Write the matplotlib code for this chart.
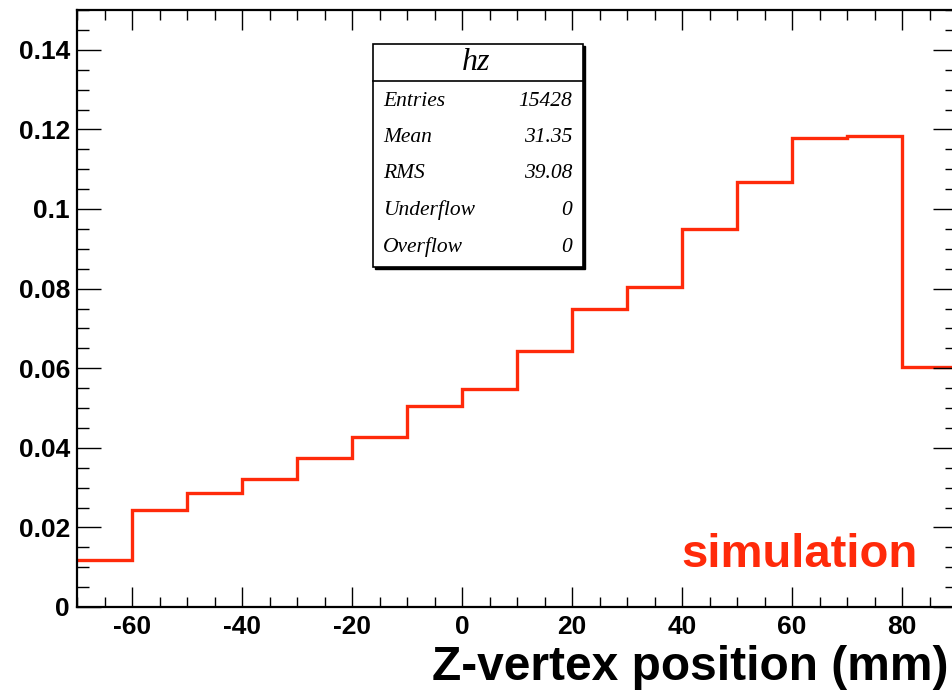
import matplotlib
matplotlib.use("Agg")
import matplotlib.pyplot as plt
from matplotlib.patches import Rectangle
from matplotlib.ticker import MultipleLocator, FuncFormatter

# histogram "hz": z-vertex, 10 mm bins
bin_edges = [-70, -60, -50, -40, -30, -20, -10, 0, 10, 20, 30, 40, 50, 60, 70, 80, 90]
counts = [0.0118, 0.0243, 0.0287, 0.0321, 0.0374, 0.0427, 0.0504, 0.0547,
          0.0642, 0.0750, 0.0803, 0.0949, 0.1068, 0.1179, 0.1183, 0.0602]

stat_names = ["Entries", "Mean", "RMS", "Underflow", "Overflow"]
stat_values = ["15428", "31.35", "39.08", "0", "0"]

red = "#ff2a0a"
W, H = 952, 690

plt.rcParams["font.family"] = ["Liberation Sans", "DejaVu Sans"]
fig = plt.figure(figsize=(W / 100, H / 100), dpi=100)
ax = fig.add_axes([77 / W, 1 - 607 / H, (957 - 77) / W, (607 - 10) / H])

ax.stairs(counts, bin_edges, color=red, linewidth=2.4, baseline=None)

ax.set_xlim(-70, 90)
ax.set_ylim(0, 0.15)
ax.xaxis.set_major_locator(MultipleLocator(20))
ax.xaxis.set_minor_locator(MultipleLocator(5))
ax.yaxis.set_major_locator(MultipleLocator(0.02))
ax.yaxis.set_minor_locator(MultipleLocator(0.005))
ax.yaxis.set_major_formatter(FuncFormatter(lambda v, p: f"{v:g}"))
ax.xaxis.set_major_formatter(FuncFormatter(lambda v, p: f"{v:g}"))

ax.tick_params(axis="both", which="both", direction="in", top=True, right=True, width=1.0)
ax.tick_params(axis="x", which="major", length=14.5, pad=6)
ax.tick_params(axis="x", which="minor", length=7.2)
ax.tick_params(axis="y", which="major", length=17.3, pad=5)
ax.tick_params(axis="y", which="minor", length=8.6)
for lab in ax.get_xticklabels() + ax.get_yticklabels():
    lab.set_fontsize(19)
    lab.set_fontweight("bold")
for s in ax.spines.values():
    s.set_linewidth(1.6)

# stats box
bx0, bx1, by0, by1 = 373, 583, 44, 267
fig.patches.append(Rectangle((bx0 / W + 1.5 / W, 1 - by1 / H - 1.5 / H), (bx1 - bx0) / W, (by1 - by0) / H,
                             transform=fig.transFigure, facecolor="black", edgecolor="black", zorder=5))
fig.patches.append(Rectangle((bx0 / W, 1 - by1 / H), (bx1 - bx0) / W, (by1 - by0) / H,
                             transform=fig.transFigure, facecolor="white", edgecolor="black",
                             linewidth=1.2, zorder=6))
fig.add_artist(plt.Line2D([bx0 / W, bx1 / W], [1 - 81 / H, 1 - 81 / H], transform=fig.transFigure,
                          color="black", linewidth=1.2, zorder=7))
fig.text(476 / W, 1 - 63 / H, "hz", fontsize=23, style="italic", family="Liberation Serif",
         ha="center", va="center", zorder=8)
for i, (name, val) in enumerate(zip(stat_names, stat_values)):
    y = 1 - (101 + 36.5 * i) / H
    fig.text(383 / W, y, name, fontsize=15.5, style="italic", family="Liberation Serif",
             ha="left", va="center", zorder=8)
    fig.text(572 / W, y, val, fontsize=15.5, style="italic", family="Liberation Serif",
             ha="right", va="center", zorder=8)

fig.text(918 / W, 1 - 567 / H, "simulation", color=red, fontsize=34, fontweight="bold",
         ha="right", va="baseline")
fig.text(948 / W, 1 - 680 / H, "Z-vertex position (mm)", fontsize=34.5, fontweight="bold",
         ha="right", va="baseline")

fig.savefig("out.png", dpi=100)
